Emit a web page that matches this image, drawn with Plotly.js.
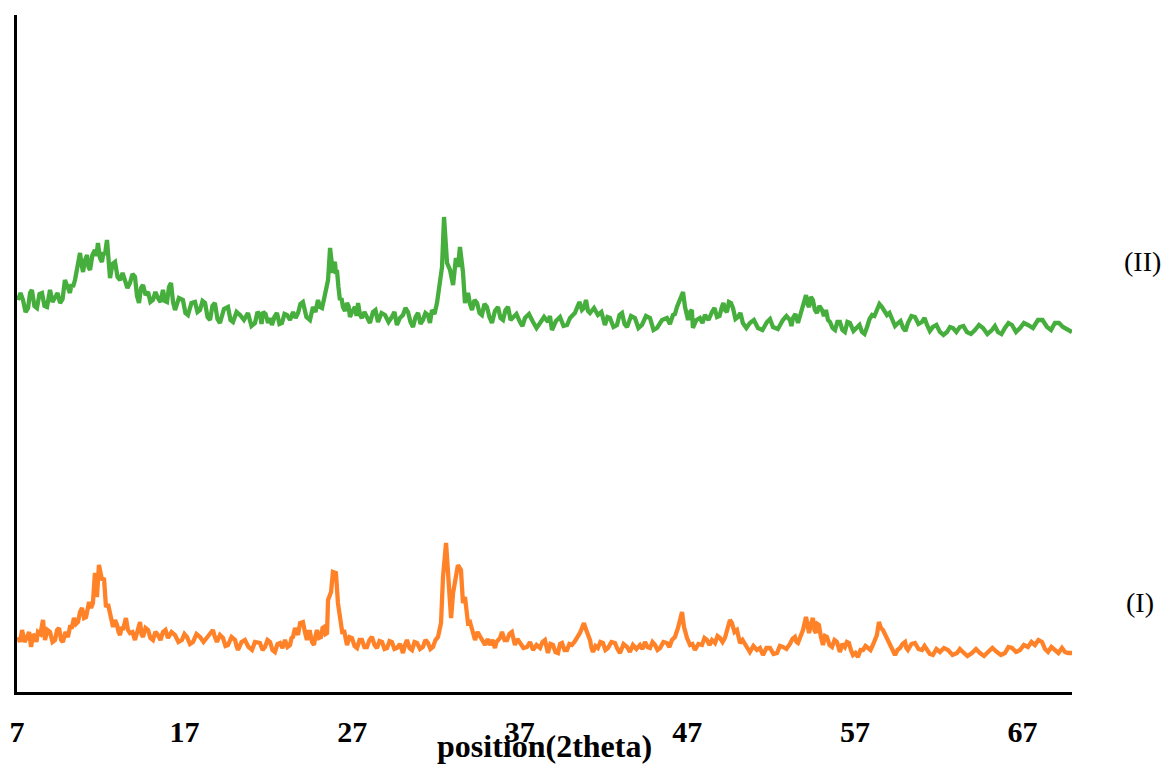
<!DOCTYPE html>
<html>
<head>
<meta charset="utf-8">
<script src="https://cdn.plot.ly/plotly-3.0.1.min.js"></script>
<style>html,body{margin:0;padding:0;background:#fff;}#chart{width:1172px;height:764px;}</style>
</head>
<body>
<div id="chart"></div>
<script>
// Sample (II) – green pattern (2theta, intensity a.u.)
const theta2 = [7.06,7.21,7.36,7.51,7.66,7.78,7.89,8.04,8.19,8.34,
8.49,8.64,8.79,8.88,8.97,9.12,9.27,9.42,9.57,9.72,
9.86,10.01,10.16,10.25,10.34,10.46,10.58,10.67,10.76,10.85,
10.94,11.06,11.18,11.27,11.36,11.50,11.65,11.74,11.83,11.95,
12.07,12.16,12.25,12.31,12.37,12.46,12.55,12.70,12.85,13.00,
13.15,13.30,13.44,13.59,13.74,13.89,14.04,14.16,14.28,14.40,
14.52,14.67,14.82,14.96,15.11,15.26,15.41,15.56,15.71,15.83,
15.95,16.07,16.19,16.31,16.43,16.66,16.90,17.05,17.20,17.41,
17.62,17.77,17.92,18.07,18.22,18.37,18.52,18.66,18.81,18.96,
19.11,19.35,19.59,19.74,19.89,20.10,20.31,20.54,20.78,20.99,
21.20,21.35,21.50,21.59,21.68,21.83,21.98,22.10,22.21,22.36,
22.51,22.66,22.81,22.96,23.11,23.29,23.47,23.62,23.77,23.91,
24.06,24.27,24.48,24.57,24.66,24.81,24.96,25.08,25.20,25.32,
25.44,25.50,25.56,25.68,25.77,25.85,25.91,25.97,26.03,26.09,
26.18,26.27,26.36,26.45,26.57,26.69,26.78,26.87,27.02,27.17,
27.26,27.35,27.47,27.58,27.73,27.88,28.06,28.24,28.39,28.54,
28.75,28.96,29.17,29.37,29.52,29.67,29.85,30.03,30.18,30.33,
30.48,30.63,30.78,30.93,31.08,31.22,31.37,31.52,31.64,31.76,
31.91,32.06,32.18,32.36,32.48,32.66,32.84,33.02,33.19,33.31,
33.43,33.61,33.73,33.91,34.03,34.15,34.30,34.45,34.60,34.74,
34.89,35.04,35.19,35.34,35.52,35.70,35.85,36.00,36.15,36.30,
36.45,36.59,36.80,37.01,37.16,37.31,37.55,37.79,38.00,38.21,
38.45,38.68,38.80,38.92,39.16,39.40,39.61,39.82,40.00,40.17,
40.29,40.41,40.56,40.71,40.83,40.95,41.07,41.19,41.43,41.66,
41.87,42.08,42.23,42.38,42.59,42.80,42.95,43.10,43.25,43.40,
43.64,43.87,44.08,44.29,44.53,44.77,44.98,45.19,45.49,45.78,
45.96,46.14,46.26,46.38,46.56,46.74,46.86,46.95,47.04,47.16,
47.27,47.33,47.54,47.75,47.90,48.05,48.26,48.47,48.62,48.77,
48.92,49.06,49.15,49.24,49.36,49.48,49.60,49.72,49.87,50.02,
50.17,50.31,50.52,50.73,50.97,51.21,51.48,51.75,51.93,52.11,
52.40,52.70,52.91,53.12,53.21,53.30,53.45,53.60,53.72,53.84,
54.08,54.17,54.26,54.37,54.49,54.61,54.73,54.88,55.03,55.15,
55.27,55.39,55.51,55.66,55.81,55.95,56.10,56.25,56.40,56.55,
56.70,56.91,57.12,57.27,57.42,57.57,57.72,57.87,58.02,58.16,
58.31,58.46,58.61,58.76,58.91,59.06,59.21,59.39,59.57,59.72,
59.87,60.01,60.16,60.37,60.58,60.79,61.00,61.15,61.30,61.47,
61.65,61.86,62.07,62.28,62.49,62.67,62.85,63.05,63.26,63.47,
63.68,63.92,64.16,64.40,64.64,64.90,65.17,65.35,65.53,65.74,
65.95,66.16,66.37,66.61,66.85,67.08,67.32,67.62,67.92,68.19,
68.46,68.70,68.93,69.17,69.41,69.68,69.95];
const intensity2 = [392,399,392,380,384,399,402,386,384,398,
399,386,385,398,402,390,394,399,389,393,
412,404,399,408,405,412,425,431,439,428,
420,432,437,425,422,437,442,436,449,434,
430,440,437,445,452,433,414,428,430,415,
412,419,412,404,409,418,415,396,389,404,
407,397,400,390,392,400,394,390,402,391,
390,405,409,390,382,394,392,379,377,389,
390,380,382,391,389,375,372,386,389,373,
369,383,385,372,370,380,377,372,379,366,
369,380,377,368,380,378,369,374,367,375,
379,368,369,378,377,372,380,374,379,388,
390,375,372,382,385,380,392,385,384,393,
402,406,412,444,428,419,428,430,418,422,
405,392,394,385,381,389,386,375,381,385,
376,389,377,374,380,374,369,380,382,370,
379,377,370,375,380,367,374,377,384,380,
370,365,375,379,368,372,379,377,369,382,
378,389,404,425,475,429,422,407,434,425,
445,420,389,399,388,382,392,389,379,377,
388,385,375,369,381,385,374,372,382,385,
372,375,378,370,366,374,378,370,364,369,
375,370,376,362,371,375,366,367,374,377,
379,384,390,382,384,392,381,379,384,377,
380,367,375,374,365,367,377,379,368,365,
376,374,364,367,376,374,362,364,372,374,
368,377,378,385,394,400,385,375,372,380,
382,364,372,374,369,377,372,380,384,375,
376,385,389,382,380,390,389,384,373,375,
379,369,364,369,372,364,362,370,373,365,
363,372,376,372,366,374,378,369,376,382,
397,388,385,395,392,382,379,386,382,376,
382,372,370,364,362,370,370,362,360,370,
369,361,365,367,360,358,365,373,377,376,
382,388,385,381,377,379,372,366,369,371,
364,361,369,376,375,368,370,374,367,361,
365,367,360,357,360,365,364,360,365,366,
360,358,362,367,364,358,362,366,360,358,
364,369,367,360,364,369,367,364,372,372,
365,362,369,369,365,362,360];

// Sample (I) – orange pattern (2theta, intensity a.u.)
const theta1 = [7.06,7.18,7.30,7.45,7.60,7.72,7.84,7.96,8.07,8.16,
8.25,8.40,8.55,8.61,8.67,8.82,8.97,9.12,9.27,9.39,
9.51,9.63,9.74,9.89,10.04,10.16,10.28,10.40,10.52,10.64,
10.76,10.88,11.00,11.12,11.21,11.30,11.42,11.53,11.65,11.77,
11.89,12.07,12.19,12.31,12.43,12.55,12.64,12.73,12.85,12.97,
13.06,13.15,13.24,13.32,13.50,13.62,13.74,13.89,14.04,14.19,
14.34,14.43,14.52,14.67,14.82,14.96,15.11,15.26,15.41,15.56,
15.71,15.86,16.01,16.22,16.43,16.63,16.84,16.99,17.14,17.32,
17.50,17.71,17.92,18.13,18.34,18.51,18.69,18.81,18.93,19.11,
19.29,19.44,19.59,19.80,20.01,20.10,20.19,20.40,20.60,20.81,
21.02,21.20,21.38,21.50,21.65,21.80,21.95,22.10,22.24,22.39,
22.54,22.69,22.84,22.99,23.14,23.29,23.38,23.47,23.59,23.77,
23.89,24.06,24.18,24.30,24.39,24.48,24.60,24.72,24.81,24.90,
25.02,25.14,25.23,25.32,25.41,25.50,25.56,25.74,25.85,26.03,
26.15,26.33,26.42,26.51,26.60,26.69,26.84,26.99,27.14,27.29,
27.44,27.58,27.73,27.88,28.03,28.18,28.33,28.48,28.63,28.78,
28.93,29.08,29.23,29.37,29.52,29.67,29.85,30.03,30.15,30.27,
30.42,30.57,30.72,30.87,31.05,31.22,31.37,31.52,31.67,31.82,
31.97,32.12,32.30,32.42,32.60,32.72,32.90,33.02,33.19,33.31,
33.49,33.61,33.73,33.91,34.03,34.15,34.24,34.33,34.48,34.63,
34.78,34.93,35.08,35.22,35.37,35.52,35.61,35.70,35.82,35.94,
36.09,36.24,36.38,36.53,36.62,36.71,36.86,37.01,37.22,37.43,
37.61,37.79,38.00,38.21,38.35,38.50,38.68,38.83,38.98,39.13,
39.28,39.40,39.52,39.67,39.82,39.96,40.11,40.26,40.41,40.50,
40.59,40.71,40.83,40.92,41.01,41.10,41.19,41.28,41.37,41.52,
41.66,41.81,41.96,42.11,42.26,42.47,42.68,42.83,42.98,43.19,
43.40,43.57,43.75,43.96,44.17,44.32,44.47,44.62,44.77,44.92,
45.07,45.22,45.37,45.57,45.78,45.93,46.08,46.26,46.44,46.68,
46.80,46.98,47.07,47.16,47.30,47.45,47.66,47.87,48.02,48.17,
48.32,48.47,48.65,48.80,48.95,49.10,49.24,49.42,49.54,49.66,
49.81,49.96,50.14,50.29,50.44,50.58,50.73,50.94,51.15,51.33,
51.51,51.72,51.93,52.14,52.35,52.52,52.70,52.91,53.12,53.27,
53.42,53.51,53.60,53.75,53.90,54.08,54.17,54.26,54.37,54.49,
54.58,54.67,54.76,54.85,54.97,55.09,55.21,55.33,55.48,55.63,
55.78,55.93,56.01,56.10,56.25,56.40,56.52,56.64,56.76,56.88,
57.03,57.18,57.33,57.48,57.63,57.78,57.93,58.07,58.19,58.31,
58.43,58.55,58.67,58.79,58.91,59.06,59.21,59.30,59.39,59.54,
59.69,59.84,59.99,60.07,60.16,60.37,60.58,60.79,61.00,61.15,
61.30,61.47,61.65,61.86,62.07,62.31,62.55,62.82,63.09,63.26,
63.44,63.71,63.98,64.22,64.46,64.70,64.94,65.20,65.47,65.71,
65.95,66.16,66.37,66.61,66.85,67.08,67.32,67.53,67.74,67.95,
68.16,68.34,68.52,68.72,68.93,69.14,69.35,69.53,69.71,69.95];
const intensity1 = [55,50,62,50,55,60,45,58,55,50,
60,58,72,60,52,62,60,50,52,62,
64,52,50,60,55,65,65,74,68,70,
80,84,74,75,86,90,84,89,119,95,
127,112,114,85,88,80,70,65,72,67,
60,57,65,62,74,62,59,60,52,60,
70,58,55,64,62,54,52,60,57,52,
60,62,54,60,57,50,52,58,55,48,
50,58,55,50,54,58,62,55,50,57,
54,46,47,55,52,46,42,50,52,45,
42,50,49,49,42,45,52,50,42,40,
48,49,44,52,45,47,54,55,64,57,
69,70,60,52,60,60,50,47,56,62,
54,55,64,65,58,59,92,100,120,119,
89,65,58,62,52,47,55,54,46,44,
52,52,45,45,52,55,47,44,51,50,
43,44,51,50,43,44,48,39,47,52,
44,42,50,49,43,45,52,49,43,45,
52,55,69,115,149,119,74,99,115,127,
122,89,95,69,70,62,58,52,60,55,
50,47,53,47,52,44,50,52,54,60,
52,52,58,60,52,47,53,49,44,45,
50,42,47,44,50,52,39,48,47,40,
39,48,49,42,42,48,47,50,54,56,
59,64,69,64,60,55,52,44,40,46,
44,50,49,42,44,50,49,43,39,48,
45,40,47,43,47,43,50,45,44,50,
47,42,44,50,49,45,52,55,64,80,
65,54,50,47,48,42,48,47,54,52,
47,52,49,56,54,50,54,65,72,69,
60,62,49,52,47,44,40,46,42,44,
37,44,44,38,39,46,45,43,48,53,
55,50,49,56,62,75,66,59,68,74,
62,59,68,67,55,47,56,55,47,45,
52,50,45,40,48,45,50,49,42,37,
39,35,42,42,46,44,42,47,52,57,
70,64,62,58,54,47,42,40,37,42,
44,48,50,44,42,48,49,43,42,46,
42,38,37,43,40,44,42,37,39,43,
40,36,39,43,39,36,40,44,40,37,
39,45,44,40,42,47,45,50,47,52,
50,43,40,45,42,39,44,40,39,39];

const tickVals = [7,17,27,37,47,57,67];
const tickText = ['7','17','27','37','47','57','67'];
const seriesLabels = ['(II)','(I)'];
const xTitle = 'position(2theta)';

const serif = 'Liberation Serif, Times New Roman, serif';

const traces = [
  {x: theta2, y: intensity2, type: 'scatter', mode: 'lines', name: seriesLabels[0],
   line: {color: '#46AE3C', width: 4.3}},
  {x: theta1, y: intensity1, type: 'scatter', mode: 'lines', name: seriesLabels[1],
   line: {color: '#FF8229', width: 4.3}}
];

const layout = {
  width: 1172, height: 764,
  margin: {l: 17, r: 100, t: 15, b: 72},
  paper_bgcolor: '#fff', plot_bgcolor: '#fff',
  showlegend: false,
  xaxis: {
    range: [7, 69.95], tickvals: tickVals, ticktext: tickText,
    showgrid: false, zeroline: false, showline: true, linecolor: '#000', linewidth: 3,
    ticks: '', ticklabelstandoff: 11,
    tickfont: {family: serif, size: 30, color: '#000', weight: 'bold'}
  },
  yaxis: {
    range: [0, 677], showticklabels: false, ticks: '',
    showgrid: false, zeroline: false, showline: true, linecolor: '#000', linewidth: 3
  },
  annotations: [
    {xref: 'paper', yref: 'paper', x: 0.5, y: -0.08, xanchor: 'center', yanchor: 'middle', text: '<b>' + xTitle + '</b>', showarrow: false,
     font: {family: serif, size: 32, color: '#000'}},
    {xref: 'paper', yref: 'y', x: 1.067, y: 431, xanchor: 'center', yanchor: 'middle', text: seriesLabels[0], showarrow: false,
     font: {family: serif, size: 28, color: '#000'}},
    {xref: 'paper', yref: 'y', x: 1.0645, y: 90, xanchor: 'center', yanchor: 'middle', text: seriesLabels[1], showarrow: false,
     font: {family: serif, size: 28, color: '#000'}}
  ]
};

Plotly.newPlot('chart', traces, layout, {displayModeBar: false, staticPlot: true});
</script>
</body>
</html>
